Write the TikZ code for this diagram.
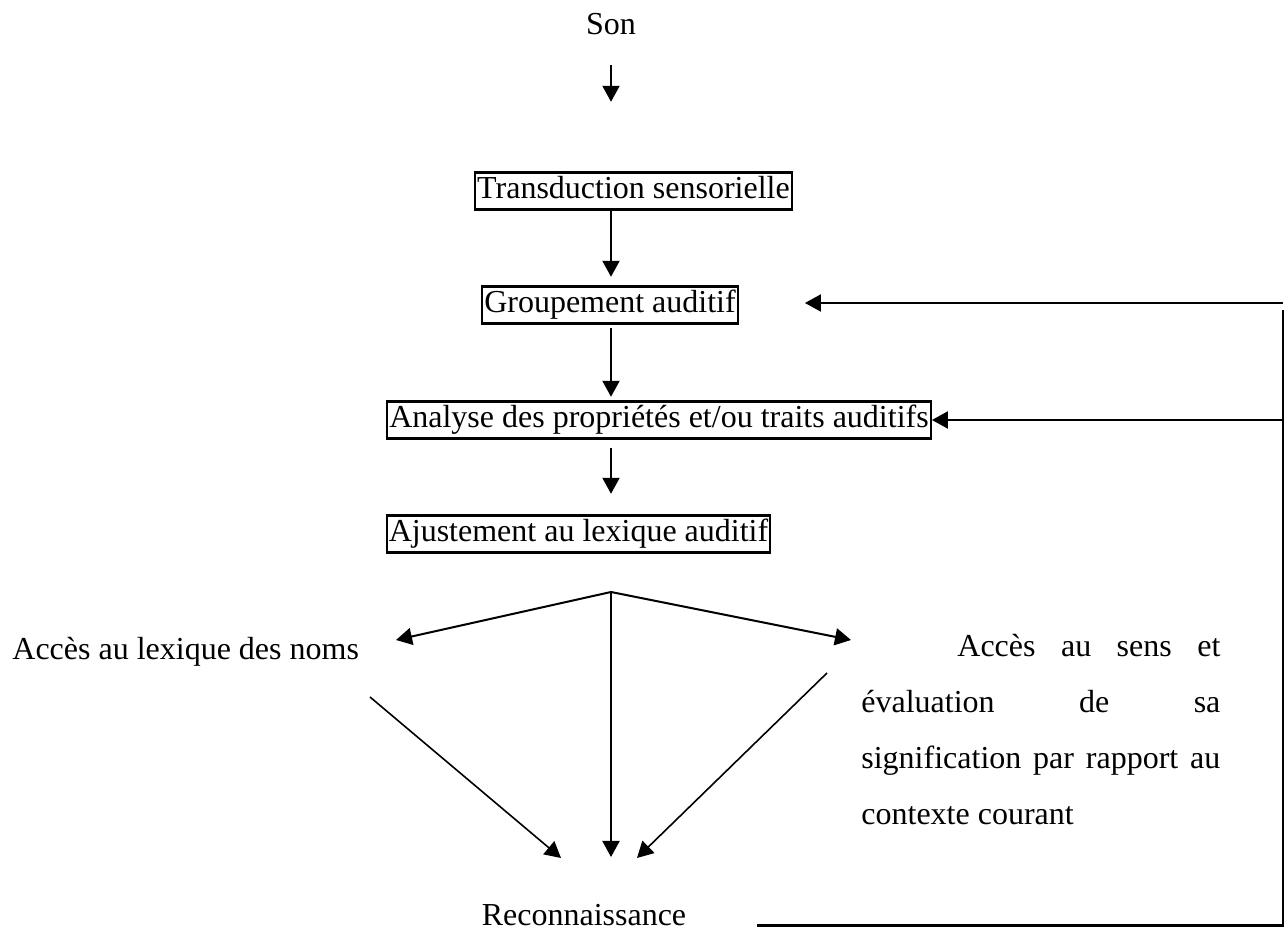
\documentclass[tikz,border=0pt]{standalone}
\usepackage{fontspec}
\setmainfont{Liberation Serif}
\usetikzlibrary{positioning,
        arrows.meta}

\begin{document}
\begin{tikzpicture}[x=0.5pt,y=-0.5pt,
            every node/.style={font=\fontsize{16}{28}\selectfont},
            box/.style={draw,line width=1.2pt,inner xsep=1pt,inner ysep=1.5pt,text height=11.5pt,text depth=4pt},
            word/.style={inner sep=0pt,text height=11.5pt,text depth=4pt},
            arr/.style={-{Triangle[length=8pt,width=8.5pt]},line width=1pt},
            link/.style={line width=1.1pt}]
            \useasboundingbox (0,0) rectangle (1287,940);

            \node [word] (son) at (611,27) {Son};
            \node [box] (trans) at (633.5,191) {Transduction sensorielle};
            \node [box] (group) at (610,305) {Groupement auditif};
            \node [box] (analyse) at (659,420) {Analyse des propriétés et/ou traits auditifs};
            \node [box] (ajust) at (578.5,534) {Ajustement au lexique auditif};
            \node [word,anchor=west] (noms) at (12,652) {Accès au lexique des noms};
            \node [anchor=north west,text width=179.5pt,align=justify,inner sep=0pt] (sens) at (861,634)
                {\hyphenpenalty=10000\hspace*{48pt}Accès au sens et\linebreak évaluation de sa\linebreak signification par rapport au\linebreak contexte courant};
            \node [word] (recon) at (584,918) {Reconnaissance};

            \coordinate (axis) at (611,0);
            \coordinate (fan) at (611,592);
            \coordinate (tipl) at (396,640);
            \coordinate (tipr) at (851,640);
            \coordinate (tipm) at (611,857);
            \coordinate (diagl) at (370,697);
            \coordinate (tipdl) at (561,858);
            \coordinate (diagr) at (827,673);
            \coordinate (tipdr) at (637,858);
            \coordinate (fbtop) at (1283,310);

            \draw [arr,shorten <=11pt,shorten >=34.75pt] (son.south -| axis) -- (trans.north -| axis);
            \draw [arr,shorten >=4.25pt] (trans.south -| axis) -- (group.north -| axis);
            \draw [arr,shorten <=1.75pt,shorten >=1.75pt] (group.south -| axis) -- (analyse.north -| axis);
            \draw [arr,shorten <=4.25pt,shorten >=10.25pt] (analyse.south -| axis) -- (ajust.north -| axis);
            \draw [arr] (fan) -- (tipl);
            \draw [arr] (fan) -- (tipr);
            \draw [arr] (fan) -- (tipm);
            \draw [arr,line width=0.8pt] (diagl) -- (tipdl);
            \draw [arr,line width=0.8pt] (diagr) -- (tipdr);
            \draw [link] (fbtop) -- (fbtop |- recon.base) -- ([xshift=35pt]recon.base east);
            \draw [arr,shorten >=33pt] ([yshift=1pt]fbtop |- group) -- ([yshift=1pt]group.east);
            \draw [arr] (fbtop |- analyse) -- (analyse);
\end{tikzpicture}
\end{document}
